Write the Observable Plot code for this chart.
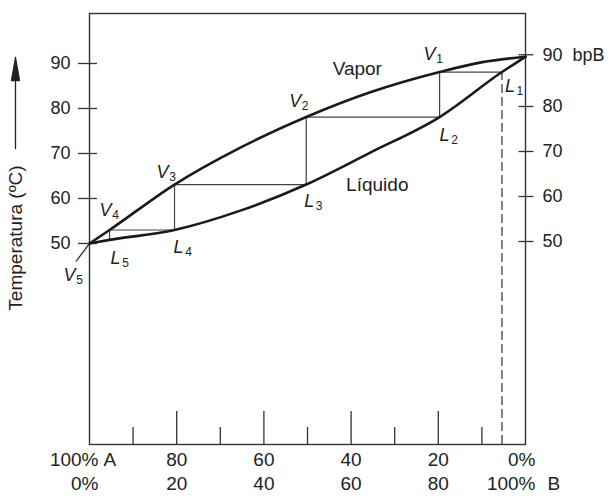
<!DOCTYPE html>
<html>
<head>
<meta charset="utf-8">
<script src="https://cdn.jsdelivr.net/npm/d3@7"></script>
<script src="https://cdn.jsdelivr.net/npm/@observablehq/plot@0.6"></script>
<style>
  html, body { margin: 0; padding: 0; background: #fff; }
  #chart svg { display: block; }
</style>
</head>
<body>
<div id="chart"></div>
<script>
// ---- Data (composition in % B, temperature in °C) ----
const vaporCurveB  = [0, 4.6, 19.5, 34.6, 49.7, 64.4, 80.3, 90.1, 100];
const vaporCurveT  = [50, 53.0, 63.1, 71.3, 78.1, 83.6, 88.1, 90.3, 91.5];
const liquidCurveB = [0, 4.6, 19.5, 34.6, 49.7, 64.4, 80.3, 94.6, 100];
const liquidCurveT = [50, 50.8, 53.0, 57.3, 63.1, 70.2, 78.1, 88.1, 91.5];

// distillation stages: L1..L5 and V1..V5
const stageNumbers = ["1", "2", "3", "4", "5"];
const liquidB = [94.6, 80.3, 49.7, 19.5, 4.6];
const liquidT = [88.1, 78.1, 63.1, 53.0, 50.8];
const vaporB  = [80.3, 49.7, 19.5, 4.6, 0];
const vaporT  = [88.1, 78.1, 63.1, 53.0, 50.0];

// axes
const leftTicks  = [50, 60, 70, 80, 90];
const rightTicks = [50, 60, 70, 80];
const bpBLabel = "90\u00a0\u00a0bpB";
const xMajor = [20, 40, 60, 80];
const xMinor = [10, 30, 50, 70, 90];
const xLabelB = [0, 20, 40, 60, 80, 100];
const rowA = ["100%", "80", "60", "40", "20", "0%"];
const rowB = ["0%", "20", "40", "60", "80", "100%"];
const endLetters = ["A", "B"];
const curveNames = ["Vapor", "Líquido"];
const yTitle = "Temperatura (ºC)";

// ---- build tables ----
const vaporCurve = vaporCurveB.map((b, i) => ({B: b, T: vaporCurveT[i]}));
const liquidCurve = liquidCurveB.map((b, i) => ({B: b, T: liquidCurveT[i]}));
const stair = [];
for (let i = 0; i < liquidB.length; i++) {
  stair.push({B: liquidB[i], T: liquidT[i]});
  if (i < liquidB.length - 1) stair.push({B: vaporB[i], T: vaporT[i]});
}
const bpB = vaporCurveT[vaporCurveT.length - 1];
const rightAll = [...rightTicks, bpB];

const yDomain = [5.33, 101.11];
const frameH = 496 - 13 - 52;
const ink = "#222";
const font = "Liberation Sans, Arial, Helvetica, sans-serif";

const lineShape = {draw(ctx, l) { ctx.moveTo(0, 0); ctx.lineTo(0, -l); }};
const arrowShape = {draw(ctx, l) {
  ctx.moveTo(0, 0); ctx.lineTo(0, -l + 20);
  ctx.moveTo(0, -l); ctx.lineTo(-4, -l + 23); ctx.lineTo(4, -l + 23); ctx.closePath();
}};

// label offsets (pixels) for V_i and L_i
const vOff = [[-10, -18], [-11, -16], [-12, -12], [-4, -20], [-20, 32]];
const lOff = [[8, 14], [5, 18], [3, 17], [4, 17], [6, 18]];

const labelMarks = [];
stageNumbers.forEach((n, i) => {
  const vp = {B: vaporB[i], T: vaporT[i]};
  const lp = {B: liquidB[i], T: liquidT[i]};
  for (const [pt, letter, off] of [[vp, "V", vOff[i]], [lp, "L", lOff[i]]]) {
    labelMarks.push(Plot.text([pt], {x: "B", y: "T", text: () => letter, dx: off[0], dy: off[1],
      fontSize: 18, fontStyle: "italic", fill: ink}));
    labelMarks.push(Plot.text([pt], {x: "B", y: "T", text: () => n, dx: off[0] + 10, dy: off[1] + 5,
      fontSize: 12, fill: ink}));
  }
});

const chart = Plot.plot({
  width: 613,
  height: 496,
  marginTop: 13,
  marginRight: 88,
  marginBottom: 52,
  marginLeft: 89,
  x: {domain: [0, 100], axis: null},
  y: {domain: yDomain},
  style: {fontFamily: font, color: ink, background: "#fff", overflow: "visible"},
  marks: [
    Plot.frame({stroke: "#333", strokeWidth: 1.4}),
    // x ticks (inward)
    Plot.ruleX(xMajor, {insetTop: frameH - 33, stroke: "#333", strokeWidth: 1.3}),
    Plot.ruleX(xMinor, {insetTop: frameH - 17, stroke: "#333", strokeWidth: 1.3}),
    // left axis
    Plot.axisY(leftTicks, {anchor: "left", label: null, tickSize: 19, dx: 8, tickFormat: () => "", stroke: "#333", strokeWidth: 1.3}),
    Plot.axisY(leftTicks, {anchor: "left", label: null, tickSize: 0, tickPadding: 19, fontSize: 18, fill: ink}),
    // right axis
    Plot.axisY(rightAll, {anchor: "right", label: null, tickSize: 15, dx: -7.5, dy: -2, tickFormat: () => "", stroke: "#333", strokeWidth: 1.3}),
    Plot.axisY(rightAll, {anchor: "right", label: null, tickSize: 0, tickPadding: 17, dy: -2, fontSize: 18, fill: ink,
      tickFormat: (d) => d === bpB ? bpBLabel : String(d)}),
    // x labels, two rows
    Plot.text(xLabelB.slice(1, -1), {x: (d) => d, text: (d, i) => rowA[i + 1], frameAnchor: "bottom", dy: 21, fontSize: 19, fill: ink}),
    Plot.text(xLabelB.slice(1, -1), {x: (d) => d, text: (d, i) => rowB[i + 1], frameAnchor: "bottom", dy: 45, fontSize: 19, fill: ink}),
    Plot.text([0], {x: (d) => d, text: () => rowA[0], frameAnchor: "bottom", dy: 21, dx: 9, textAnchor: "end", fontSize: 19, fill: ink}),
    Plot.text([0], {x: (d) => d, text: () => rowB[0], frameAnchor: "bottom", dy: 45, dx: 9, textAnchor: "end", fontSize: 19, fill: ink}),
    Plot.text([0], {x: (d) => d, text: () => endLetters[0], frameAnchor: "bottom", dy: 21, dx: 14, textAnchor: "start", fontSize: 19, fill: ink}),
    Plot.text([100], {x: (d) => d, text: () => rowA[5], frameAnchor: "bottom", dy: 21, dx: 10, textAnchor: "end", fontSize: 19, fill: ink}),
    Plot.text([100], {x: (d) => d, text: () => rowB[5], frameAnchor: "bottom", dy: 45, dx: 10, textAnchor: "end", fontSize: 19, fill: ink}),
    Plot.text([100], {x: (d) => d, text: () => endLetters[1], frameAnchor: "bottom", dy: 45, dx: 22, textAnchor: "start", fontSize: 19, fill: ink}),
    // y title + arrow
    Plot.text([yTitle], {text: (d) => d, frameAnchor: "left", textAnchor: "middle", rotate: -90, dx: -73.5, dy: 9, fontSize: 19, fill: ink}),
    Plot.vector([0], {frameAnchor: "left", dx: -74, dy: -80.5, length: 91, rotate: 0, anchor: "start",
      shape: arrowShape, stroke: ink, fill: ink, strokeWidth: 1.3}),
    // dashed line from L1
    Plot.ruleX([{B: liquidB[0], T: liquidT[0]}], {x: "B", y1: yDomain[0], y2: "T", stroke: "#333", strokeWidth: 1.2, strokeDasharray: "9,4"}),
    // staircase
    Plot.line(stair, {x: "B", y: "T", stroke: "#444", strokeWidth: 1.2}),
    // curves
    Plot.line(vaporCurve, {x: "B", y: "T", curve: "monotone-x", stroke: "#1a1a1a", strokeWidth: 2.6}),
    Plot.line(liquidCurve, {x: "B", y: "T", curve: "monotone-x", stroke: "#1a1a1a", strokeWidth: 2.6}),
    // curve names
    Plot.text([vaporCurve[5]], {x: "B", y: "T", text: () => curveNames[0], dx: -13, dy: -23, fontSize: 19, fill: ink}),
    Plot.text([liquidCurve[5]], {x: "B", y: "T", text: () => curveNames[1], dx: 7, dy: 32, fontSize: 19, fill: ink}),
    // V5 leader line
    Plot.vector([{B: vaporB[4], T: vaporT[4]}], {x: "B", y: "T", length: 22, rotate: 217, anchor: "start",
      shape: lineShape, stroke: "#333", strokeWidth: 1.3}),
    ...labelMarks
  ]
});
document.getElementById("chart").appendChild(chart);
</script>
</body>
</html>
